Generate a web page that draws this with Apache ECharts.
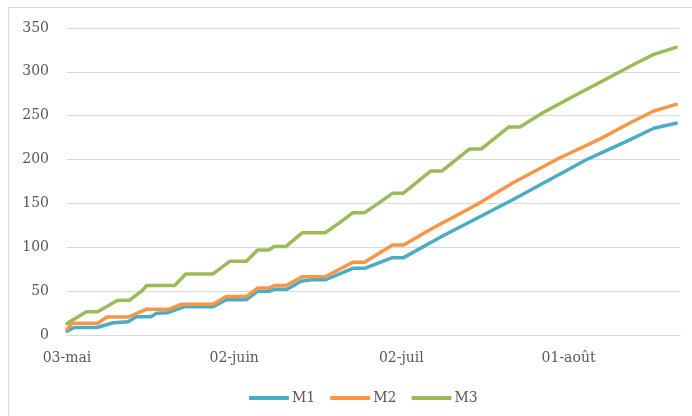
<!DOCTYPE html>
<html>
<head>
<meta charset="utf-8">
<script src="https://cdn.jsdelivr.net/npm/echarts@6/dist/echarts.min.js"></script>
<style>
html,body{margin:0;padding:0;background:#fff;}
#chart{width:692px;height:416px;}
</style>
</head>
<body>
<div id="chart"></div>
<script>
// x = days since 03-mai
var xTickLabels = ['03-mai', '02-juin', '02-juil', '01-août'];
var seriesNames = ['M1', 'M2', 'M3'];

var m1 = [[0,4.5],[1.3,8.5],[5.4,8.5],[8.3,14],[11,15.2],[12.4,20.9],[15.1,20.9],[16,24.7],[18.1,25.5],[21.1,32.3],[26.2,32.3],[28.6,40.3],[32.2,40.3],[34.2,49.8],[36.2,49.8],[37.2,52.1],[39.5,52.1],[42,61.2],[43.8,63],[46.4,63],[51.3,76],[53.4,76],[58.4,88.2],[60.4,88.2],[67.4,112.9],[79.9,153.9],[93.1,199.5],[100.3,220.4],[105.3,235.7],[109.3,241.4]];

var m2 = [[0,6],[0.9,13.5],[5.5,13.5],[7.2,20.5],[11,20.5],[14.2,29.3],[18.3,29.3],[20.5,35],[26.2,35],[28.6,44],[32.2,44],[34.2,53.5],[36.2,53.5],[37.2,56.3],[39.3,56.3],[42.2,66.5],[46.4,66.5],[51.3,83],[53.4,83],[58.4,102.6],[60.4,102.6],[65.6,121.7],[73.4,148.2],[79.9,173],[88.3,201.5],[95.5,223],[100.9,241.4],[105.3,255.4],[109.3,263]];

var m3 = [[0,13],[3.5,26.5],[5.5,26.5],[9.1,39.5],[11.2,39.5],[12.7,47],[13.5,50.5],[14.3,56.5],[19.3,56.5],[21.3,69.6],[26.2,69.6],[29.2,84],[32.2,84],[34.2,97],[36.2,97],[37.2,101],[39.3,101],[42.2,116.5],[46.3,116.5],[49.2,129.2],[51.3,139.5],[53.4,139.5],[56.3,152],[58.4,161.5],[60.3,161.5],[65.3,187],[67.3,187],[72.2,212],[74.3,212],[79.3,237.2],[81.3,237.2],[85.3,253],[91.3,273.7],[96.7,291.5],[102.1,309.8],[105.3,320],[109.3,328]];

var colors = ['#4BACC6', '#F79646', '#9BBB59'];
var font = 'DejaVu Serif';

var chart = echarts.init(document.getElementById('chart'), null, {renderer: 'canvas'});
var data = [m1, m2, m3];
chart.setOption({
  animation: false,
  backgroundColor: '#fff',
  graphic: [{
    type: 'rect',
    shape: {x: 8.5, y: 7.5, width: 720, height: 430},
    style: {fill: 'none', stroke: '#d9d9d9', lineWidth: 1},
    silent: true
  }],
  grid: {left: 67, right: 12, top: 28, bottom: 81},
  xAxis: {
    type: 'value',
    min: 0,
    max: 110,
    interval: 30,
    axisLine: {show: true, lineStyle: {color: '#d9d9d9', width: 1}},
    axisTick: {show: false},
    splitLine: {show: false},
    axisLabel: {
      margin: 16,
      color: '#595959',
      fontFamily: font,
      fontSize: 14,
      showMaxLabel: false,
      formatter: function (v) {
        var i = Math.round(v / 30);
        if (Math.abs(v - i * 30) < 1e-6 && i < xTickLabels.length) return xTickLabels[i];
        return '';
      }
    }
  },
  yAxis: {
    type: 'value',
    min: 0,
    max: 350,
    interval: 50,
    axisLine: {show: false},
    axisTick: {show: false},
    splitLine: {show: true, lineStyle: {color: '#d9d9d9', width: 1}},
    axisLabel: {margin: 18, color: '#595959', fontFamily: font, fontSize: 14}
  },
  legend: {
    left: 244,
    top: 386,
    icon: 'roundRect',
    itemWidth: 40,
    itemHeight: 4,
    itemGap: 15,
    textStyle: {color: '#595959', fontFamily: font, fontSize: 14, padding: [0, 0, 0, -2]},
    data: seriesNames
  },
  series: seriesNames.map(function (n, i) {
    return {
      name: n,
      type: 'line',
      data: data[i],
      showSymbol: false,
      symbol: 'none',
      color: colors[i],
      itemStyle: {color: colors[i]},
      lineStyle: {width: 3.5, color: colors[i], cap: 'round', join: 'round'}
    };
  })
});
</script>
</body>
</html>
